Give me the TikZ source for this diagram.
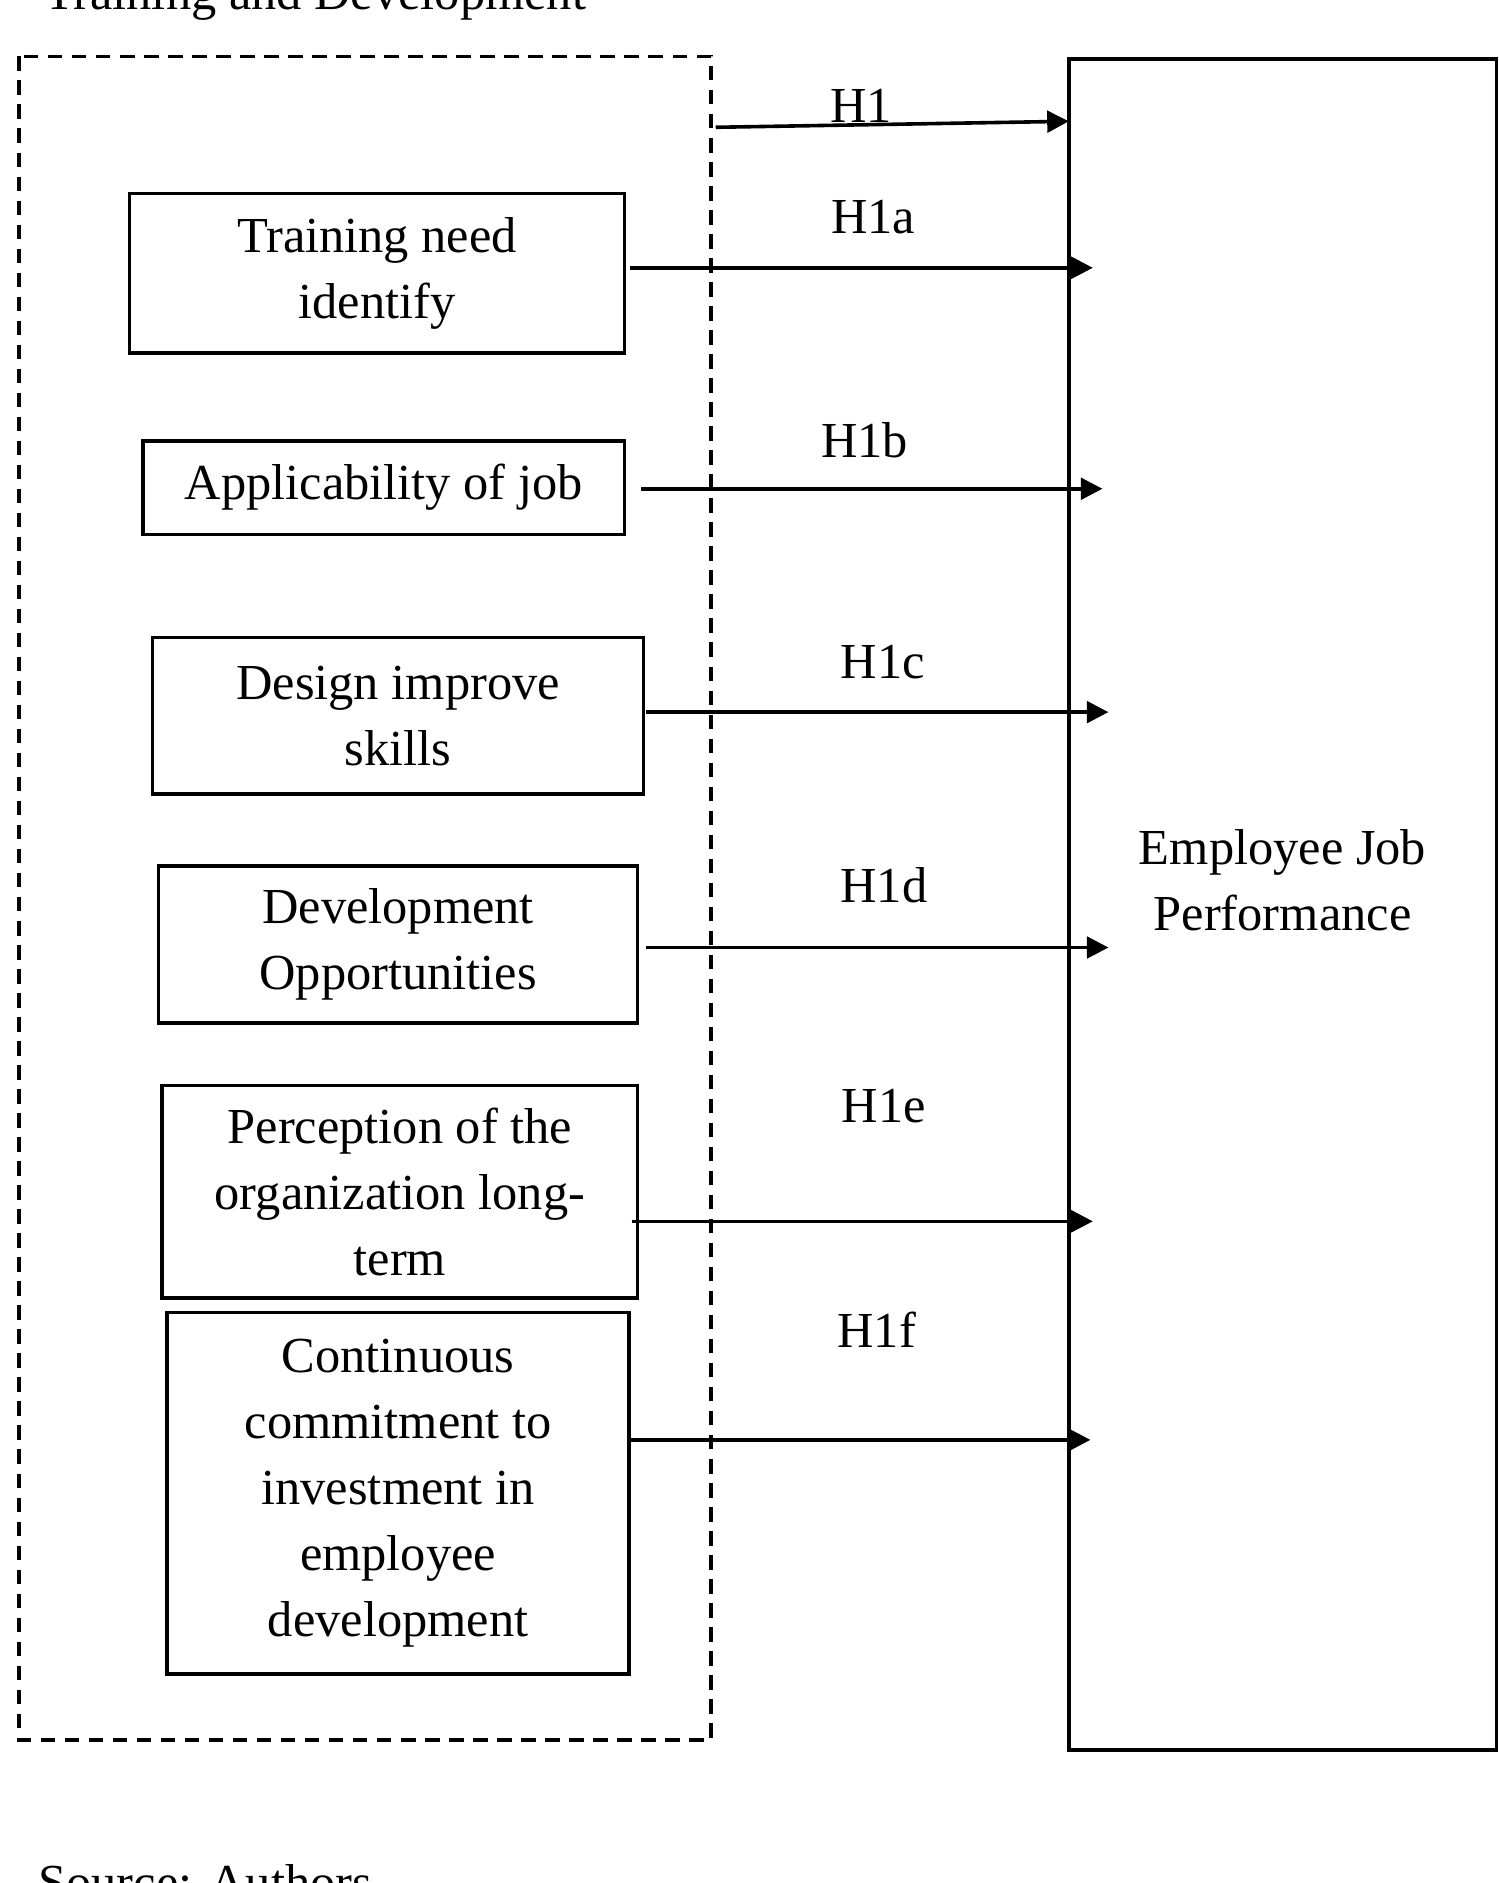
\documentclass[tikz,border=0pt]{standalone}
\usepackage{fontspec}
\setmainfont{Liberation Serif}
\usetikzlibrary{arrows.meta}
\begin{document}
\begin{tikzpicture}[x=0.5pt,y=-0.5pt,
  box/.style={draw,line width=1.5pt,inner sep=0},
  txt/.style={align=center,font=\fontsize{21}{27.5}\selectfont},
  arr/.style={line width=1.5pt,-{Triangle[length=9pt,width=9pt]}}]
\useasboundingbox (0,0) rectangle (1248,1568);
\node[anchor=base west,font=\fontsize{21}{27.5}\selectfont] (title) at (30,8) {Training and Development};
\node[anchor=base west,font=\fontsize{21}{27.5}\selectfont] (src) at (25,1582) {Source: Authors};
\draw[line width=1.5pt,dash pattern=on 6pt off 4pt] (16,47) rectangle (592,1449);
\draw[box] (890,49) rectangle (1246,1457);
\node[txt] (ejp) at (1068,733) {Employee Job\\Performance};
\foreach \n/\a/\b/\c/\d/\t in {
 b1/108/161/520/294/{Training need\\identify},
 b2/119/367/520/445/{Applicability of job},
 b3/127/531/536/661/{Design improve\\skills},
 b4/132/721/531/852/{Development\\Opportunities},
 b5/135/904/531/1081/{Perception of the\\organization long-\\term},
 b6/139/1093/524/1394/{Continuous\\commitment to\\investment in\\employee\\development}}{
 \draw[line width=1.5pt] (\a,\b) rectangle (\c,\d);
 \node[txt] (\n) at ({(\a+\c)/2},{(\b+\d)/2}) {\t};
}
\foreach \s/\sx/\sy/\ex/\ey/\lx/\ly/\l in {
 a0/596/106/890/101/717/88/H1,
 a1/525/223/910/223/727/181/H1a,
 a2/534/407/918/407/720/367/H1b,
 a3/538/593/923/593/735/551/H1c,
 a4/538/789/923/789/736/737/H1d,
 a5/526/1017/910/1017/736/921/H1e,
 a6/524/1199/908/1199/730/1107/H1f}{
 \coordinate (\s s) at (\sx,\sy);
 \coordinate (\s e) at (\ex,\ey);
 \draw[arr] (\s s) -- (\s e);
 \node[txt] (\s l) at (\lx,\ly) {\l};
}
\end{tikzpicture}
\end{document}
